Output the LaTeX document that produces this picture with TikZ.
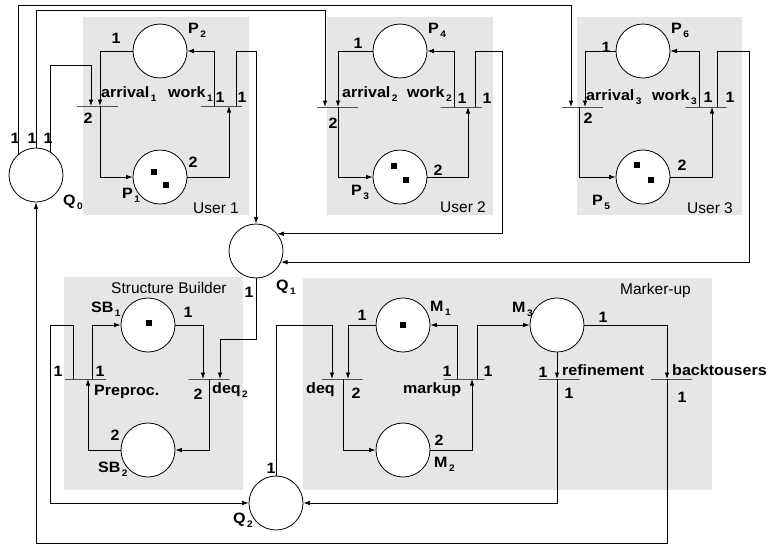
\documentclass[tikz,border=0pt]{standalone}
\usepackage{fontspec}
\setmainfont{Liberation Sans}
\newfontfamily\lblfont{Liberation Sans}[FakeStretch=1.07]
\usetikzlibrary{arrows.meta,calc}
\definecolor{panelgray}{RGB}{230,230,230}
\newcommand\lowsub[1]{\kern1.5pt\raisebox{-4pt}{\fontsize{9.5}{9.5}\selectfont #1}}

\begin{document}
\begin{tikzpicture}[x=1pt,y=-1pt,
  place/.style={circle,draw,fill=white,minimum size=54pt,inner sep=0pt,line width=0.8pt},
  trans/.style={draw,rectangle,minimum width=41pt,minimum height=0pt,inner sep=0pt,line width=0.8pt},
  arc/.style={line width=0.8pt,-{Latex[length=6.5pt,width=4.5pt]}},
  lbl/.style={inner sep=0pt,font=\lblfont\bfseries\fontsize{15}{15}\selectfont},
  nm/.style={lbl,anchor=base west},
  title/.style={inner sep=0pt,anchor=base west,font=\fontsize{15.5}{16}\selectfont},
  token/.style={fill=black,rectangle,minimum size=6pt,inner sep=0pt}]

\useasboundingbox (0,0) rectangle (768,547);

% component panels
\fill[panelgray] (83,17) rectangle (249,215);
\fill[panelgray] (327,17) rectangle (493,215);
\fill[panelgray] (577,17) rectangle (742,215);
\fill[panelgray] (64,277) rectangle (243,490);
\fill[panelgray] (303,278) rectangle (712,490);

% places
\node[place] (P2) at (160,51) {};
\node[place] (P1) at (160,177) {};
\node[place] (P4) at (400,51) {};
\node[place] (P3) at (400,177) {};
\node[place] (P6) at (643,51) {};
\node[place] (P5) at (643,177) {};
\node[place] (Q0) at (36,175) {};
\node[place] (Q1) at (256,251) {};
\node[place] (SB1) at (148,325) {};
\node[place] (SB2) at (148,450) {};
\node[place] (Q2) at (276,503) {};
\node[place] (M1) at (403,325) {};
\node[place] (M2) at (403,450) {};
\node[place] (M3) at (557,325) {};

% transitions
\node[trans] (arr1) at (97.5,106) {};
\node[trans] (work1) at (221.5,106) {};
\node[trans] (arr2) at (337.5,107) {};
\node[trans] (work2) at (461,107) {};
\node[trans] (arr3) at (582.5,107) {};
\node[trans] (work3) at (706,107) {};
\node[trans] (pre) at (85.5,379) {};
\node[trans] (deq2) at (209,379) {};
\node[trans] (deq) at (342,379) {};
\node[trans] (markup) at (464,379) {};
\node[trans] (refine) at (559,379) {};
\node[trans] (back) at (671.5,379) {};

% arc ports on the transition bars
\coordinate (a1q) at ($(arr1)+(-6.5,0)$);
\coordinate (a1p) at ($(arr1)+(2.5,0)$);
\coordinate (w1p2) at ($(work1)+(-7.5,0)$);
\coordinate (w1p1) at ($(work1)+(7.5,0)$);
\coordinate (w1q) at ($(work1)+(14.5,0)$);
\coordinate (a2q) at ($(arr2)+(-12.5,0)$);
\coordinate (a2p) at ($(arr2)+(0.5,0)$);
\coordinate (w2p4) at ($(work2)+(-7,0)$);
\coordinate (w2p3) at ($(work2)+(7,0)$);
\coordinate (w2q) at ($(work2)+(14,0)$);
\coordinate (a3q) at ($(arr3)+(-11.5,0)$);
\coordinate (a3p6) at ($(arr3)+(2.5,0)$);
\coordinate (a3p5) at ($(arr3)+(-3.5,0)$);
\coordinate (w3p6) at ($(work3)+(-7,0)$);
\coordinate (w3p5) at ($(work3)+(6,0)$);
\coordinate (w3q) at ($(work3)+(11,0)$);
\coordinate (prq) at ($(pre)+(-12,0)$);
\coordinate (pr2) at ($(pre)+(2.5,0)$);
\coordinate (pr1) at ($(pre)+(6.5,0)$);
\coordinate (d2s) at ($(deq2)+(-6,0)$);
\coordinate (d2o) at ($(deq2)+(0,0)$);
\coordinate (d2q) at ($(deq2)+(11,0)$);
\coordinate (dq) at ($(deq)+(-10,0)$);
\coordinate (dm2) at ($(deq)+(1,0)$);
\coordinate (dm1) at ($(deq)+(6,0)$);
\coordinate (mk1) at ($(markup)+(-7,0)$);
\coordinate (mk2) at ($(markup)+(8,0)$);
\coordinate (mk3) at ($(markup)+(13,0)$);
\coordinate (rf) at ($(refine)+(-2,0)$);
\coordinate (bk) at ($(back)+(-4.5,0)$);

% user 1
\draw[arc] (P2.west) -| (a1p);
\draw[arc] (a1p) |- (P1.west);
\draw[arc] (P1.east) -| (w1p1);
\draw[arc] (w1p2) |- (P2.east);
\draw[arc] (w1q) |- (Q1.north |- P2.east) -- (Q1.north);
% user 2
\draw[arc] (P4.west) -| (a2p);
\draw[arc] (a2p) |- (P3.west);
\draw[arc] (P3.east) -| (w2p3);
\draw[arc] (w2p4) |- (P4.east);
\draw[arc] (w2q) |- (502,51) |- (Q1.39);
% user 3
\draw[arc] (P6.west) -| (a3p6);
\draw[arc] (a3p5) |- (P5.west);
\draw[arc] (P5.east) -| (w3p5);
\draw[arc] (w3p6) |- (P6.east);
\draw[arc] (w3q) |- (749,51) |- (Q1.-24);
% queue Q0 feeding the users
\draw[arc] (Q0.59) |- (a1q |- 0,65) -- (a1q);
\draw[arc] (Q0.north) |- (a2q |- 0,10) -- (a2q);
\draw[arc] (Q0.129) |- (a3q |- 0,5) -- (a3q);
% structure builder
\draw[arc] (SB1.east) -| (d2s);
\draw[arc] (Q1.south) |- (d2q |- 0,339) -- (d2q);
\draw[arc] (d2o) |- (SB2.east);
\draw[arc] (SB2.west) -| (pr2);
\draw[arc] (pr1) |- (SB1.west);
\draw[arc] (prq) |- (50,325) |- (Q2.west);
% marker-up
\draw[arc] (Q2.north) |- (dq |- M1.west) -- (dq);
\draw[arc] (M1.west) -| (dm1);
\draw[arc] (dm2) |- (M2.west);
\draw[arc] (M2.east) -| (mk2);
\draw[arc] (mk1) |- (M1.east);
\draw[arc] (mk3) |- (M3.west);
\draw[arc] (M3.south) -- (rf);
\draw[arc] (rf) |- (Q2.east);
\draw[arc] (M3.east) -| (bk);
\draw[arc] (bk) |- (Q0.south |- 0,543) -- (Q0.south);

% tokens
\node[token] (t1) at (154,172) {};
\node[token] (t2) at (166,185) {};
\node[token] (t3) at (394,166) {};
\node[token] (t4) at (406,180) {};
\node[token] (t5) at (637,165) {};
\node[token] (t6) at (651,180) {};
\node[token] (t7) at (149,323) {};
\node[token] (t8) at (403,325) {};

% panel titles
\node[title] (tu1) at (193,213) {User 1};
\node[title] (tu2) at (440,212) {User 2};
\node[title] (tu3) at (687,213) {User 3};
\node[title] (tsb) at (111,293) {Structure Builder};
\node[title] (tmu) at (620,294) {Marker-up};

% user 1 labels
\node[lbl] (k1) at (116,38) {1};
\node[lbl] (k2) at (88,118) {2};
\node[lbl] (k3) at (193,162) {2};
\node[lbl] (k4) at (220,97) {1};
\node[lbl] (k5) at (242,97) {1};
\node[nm] (nP2) at (188,33) {P\lowsub{2}};
\node[nm] (nP1) at (122,198) {P\lowsub{1}};
\node[nm] (na1) at (101,97) {arrival\lowsub{1}};
\node[nm] (nw1) at (168,97) {work\lowsub{1}};
% Q0 labels
\node[lbl] (k6) at (15,138) {1};
\node[lbl] (k7) at (32,138) {1};
\node[lbl] (k8) at (48,138) {1};
\node[nm] (nQ0) at (63,205) {Q\lowsub{0}};
% user 2 labels
\node[lbl] (k9) at (358,43) {1};
\node[lbl] (k10) at (333,123) {2};
\node[lbl] (k11) at (438,170) {2};
\node[lbl] (k12) at (462,98) {1};
\node[lbl] (k13) at (487,98) {1};
\node[nm] (nP4) at (428,33) {P\lowsub{4}};
\node[nm] (nP3) at (351,195) {P\lowsub{3}};
\node[nm] (na2) at (342,97) {arrival\lowsub{2}};
\node[nm] (nw2) at (407,97) {work\lowsub{2}};
% user 3 labels
\node[lbl] (k14) at (606,47) {1};
\node[lbl] (k15) at (588,118) {2};
\node[lbl] (k16) at (682,165) {2};
\node[lbl] (k17) at (708,97) {1};
\node[lbl] (k18) at (730,97) {1};
\node[nm] (nP6) at (671,33) {P\lowsub{6}};
\node[nm] (nP5) at (592,205) {P\lowsub{5}};
\node[nm] (na3) at (586,100) {arrival\lowsub{3}};
\node[nm] (nw3) at (652,100) {work\lowsub{3}};
% structure builder labels
\node[lbl] (k19) at (249,292) {1};
\node[lbl] (k20) at (188,312) {1};
\node[lbl] (k21) at (58,371) {1};
\node[lbl] (k22) at (100,371) {1};
\node[lbl] (k23) at (198,394) {2};
\node[lbl] (k24) at (115,435) {2};
\node[lbl] (k25) at (271,468) {1};
\node[nm] (nSB1) at (91,312) {SB\lowsub{1}};
\node[nm] (nSB2) at (98,472) {SB\lowsub{2}};
\node[nm] (nQ1) at (276,290) {Q\lowsub{1}};
\node[nm] (nQ2) at (233,523) {Q\lowsub{2}};
\node[nm] (npre) at (94,395) {Preproc.};
\node[nm] (ndeq2) at (212,393) {deq\lowsub{2}};
% marker-up labels
\node[lbl] (k26) at (362,315) {1};
\node[lbl] (k27) at (356,393) {2};
\node[lbl] (k28) at (447,371) {1};
\node[lbl] (k29) at (488,371) {1};
\node[lbl] (k30) at (439,440) {2};
\node[lbl] (k31) at (543,372) {1};
\node[lbl] (k32) at (569,393) {1};
\node[lbl] (k33) at (603,317) {1};
\node[lbl] (k34) at (682,397) {1};
\node[nm] (nM1) at (430,311) {M\lowsub{1}};
\node[nm] (nM3) at (512,312) {M\lowsub{3}};
\node[nm] (nM2) at (434,467) {M\lowsub{2}};
\node[nm] (ndeq) at (306,393) {deq};
\node[nm] (nmk) at (403,393) {markup};
\node[nm] (nref) at (562,375) {refinement};
\node[nm] (nback) at (672,375) {backtousers};
\end{tikzpicture}
\end{document}
